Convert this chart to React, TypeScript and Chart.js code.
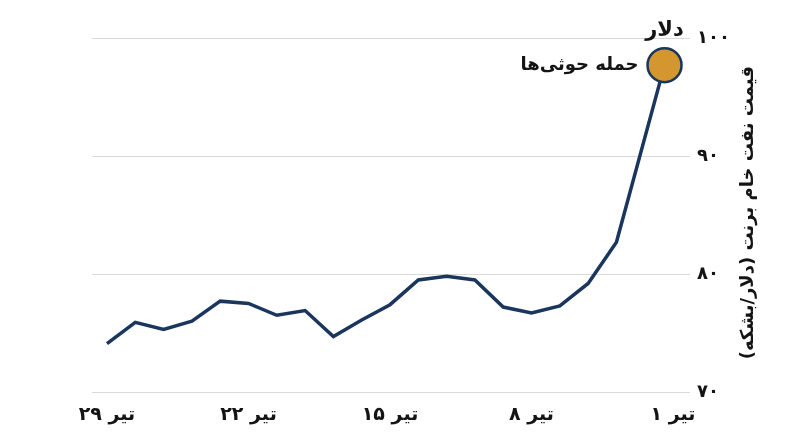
import React, { useEffect, useRef } from "react";
import { Chart, registerables } from "chart.js";

Chart.register(...registerables);

// Trading-day position of each observation (0 = ۲۹ تیر at left, 20 = ۱ تیر at right)
const dayPositions = [0, 1, 2, 3, 4, 5, 6, 7, 8, 9, 10, 11, 12, 13, 14, 15, 16, 17, 18, 19.7];
// Brent crude price, USD per barrel
const brentPrices = [74.1, 75.9, 75.3, 76.0, 77.7, 77.5, 76.5, 76.9, 74.7, 76.1, 77.4, 79.5, 79.8, 79.5, 77.2, 76.7, 77.3, 79.2, 82.7, 97.7];

const xTickPositions = [0, 5, 10, 15, 20];
const xTickLabels = ["۲۹ تیر", "۲۲ تیر", "۱۵ تیر", "۸ تیر", "۱ تیر"];
const yTickValues = [70, 80, 90, 100];
const yTickLabels = ["۷۰", "۸۰", "۹۰", "۱۰۰"];

const yTitle = "قیمت نفت خام برنت (دلار/بشکه)";
const unitLabel = "دلار";
const eventLabel = "حمله حوثی‌ها";

const FONT = "'DejaVu Sans', sans-serif";
const LINE_COLOR = "#1B365D";
const DOT_COLOR = "#D4962F";
const TEXT_COLOR = "#141414";

export default function App() {
  const canvasRef = useRef<HTMLCanvasElement | null>(null);

  useEffect(() => {
    document.body.style.margin = "0";
    const canvas = canvasRef.current;
    if (!canvas) return;
    const last = brentPrices.length - 1;

    const annotations = {
      id: "annotations",
      afterDatasetsDraw(chart: any) {
        const ctx = chart.ctx as CanvasRenderingContext2D;
        const meta = chart.getDatasetMeta(0);
        const pt = meta.data[last];
        const yScale = chart.scales.y;
        ctx.save();
        ctx.fillStyle = TEXT_COLOR;
        // unit label above the highest point
        ctx.font = `bold 21px ${FONT}`;
        ctx.textAlign = "center";
        ctx.textBaseline = "alphabetic";
        ctx.fillText(unitLabel, pt.x, yScale.getPixelForValue(100) - 2);
        // event label
        ctx.font = `bold 18px ${FONT}`;
        ctx.textAlign = "right";
        ctx.textBaseline = "middle";
        ctx.fillText(eventLabel, pt.x - 26, pt.y);
        // y axis title
        ctx.translate(748, yScale.getPixelForValue(85.2));
        ctx.rotate(-Math.PI / 2);
        (ctx as any).direction = "rtl";
        ctx.font = `bold 18px ${FONT}`;
        ctx.textAlign = "center";
        ctx.textBaseline = "middle";
        ctx.fillText(yTitle, 0, 0);
        ctx.restore();
      },
    };

    const chart = new Chart(canvas, {
      type: "line",
      data: {
        datasets: [
          {
            data: dayPositions.map((x, i) => ({ x, y: brentPrices[i] })),
            borderColor: LINE_COLOR,
            borderWidth: 3.5,
            tension: 0,
            pointRadius: (c: any) => (c.dataIndex === last ? 17 : 0),
            pointHoverRadius: (c: any) => (c.dataIndex === last ? 17 : 0),
            pointBackgroundColor: DOT_COLOR,
            pointBorderColor: LINE_COLOR,
            pointBorderWidth: 2.5,
          },
        ],
      },
      options: {
        responsive: false,
        animation: false,
        layout: { padding: { top: 38, left: 92, right: 0, bottom: 0 } },
        plugins: { legend: { display: false }, tooltip: { enabled: false } },
        scales: {
          x: {
            type: "linear",
            min: -0.53,
            max: 20.6,
            grid: { display: false, drawTicks: false },
            border: { display: false },
            afterBuildTicks: (s: any) => {
              s.ticks = xTickPositions.map((v) => ({ value: v }));
            },
            afterFit: (s: any) => {
              s.height = 55;
            },
            ticks: {
              autoSkip: false,
              maxRotation: 0,
              padding: 12,
              color: TEXT_COLOR,
              font: { family: FONT, size: 19, weight: "bold" },
              callback: (v: any) => xTickLabels[xTickPositions.indexOf(Number(v))] ?? "",
            },
          },
          y: {
            position: "right",
            min: 70,
            max: 100,
            grid: { color: "#D9D9D9", lineWidth: 1, drawTicks: false },
            border: { display: false },
            afterBuildTicks: (s: any) => {
              s.ticks = yTickValues.map((v) => ({ value: v }));
            },
            afterFit: (s: any) => {
              s.width = 110;
            },
            ticks: {
              padding: 7,
              color: TEXT_COLOR,
              font: { family: FONT, size: 18, weight: "bold" },
              callback: (v: any) => yTickLabels[yTickValues.indexOf(Number(v))] ?? "",
            },
          },
        },
      },
      plugins: [annotations],
    });

    return () => chart.destroy();
  }, []);

  return (
    <div style={{ width: 800, height: 447, background: "#fff" }}>
      <canvas ref={canvasRef} width={800} height={447} style={{ width: 800, height: 447, display: "block" }} />
    </div>
  );
}
